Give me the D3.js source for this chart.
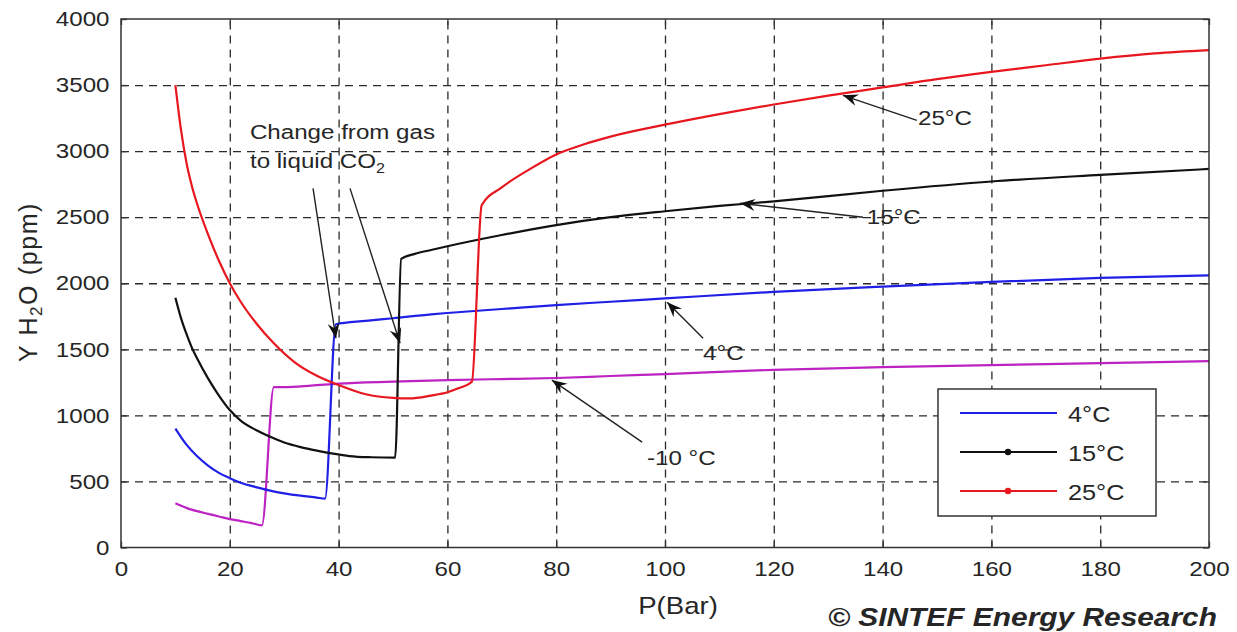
<!DOCTYPE html>
<html><head><meta charset="utf-8">
<script src="https://cdn.jsdelivr.net/npm/d3@7"></script>
<style>
body{margin:0;background:#fff}
text{font-family:"Liberation Sans",Arial,Helvetica,sans-serif;fill:#262626}
</style>
</head><body>
<svg id="c" width="1237" height="632"></svg>
<script>
// ---- data ----
const xTicks = [0,20,40,60,80,100,120,140,160,180,200];
const yTicks = [0,500,1000,1500,2000,2500,3000,3500,4000];

// 4°C
const p4  = [10,12,14,16,18,20,22,25,28,30,33,36,37.5,39.5,45,50,57,60,70,80,90,100,120,140,160,180,200];
const y4  = [900,780,690,620,565,525,490,455,425,410,392,378,370,1690,1715,1735,1765,1775,1805,1835,1860,1885,1935,1975,2010,2040,2060];
// 15°C
const p15 = [10,11,12,13,14,16,18,20,22,25,27,30,33,36,39,42,46,50.4,51.5,54,57,60,70,80,90,100,110,120,140,160,180,200];
const y15 = [1890,1740,1620,1515,1430,1280,1150,1040,960,885,845,795,760,733,710,692,683,680,2185,2222,2252,2280,2365,2440,2500,2545,2585,2620,2700,2770,2820,2865];
// 25°C
const p25 = [10,11,12,13,14,16,18,20,22,25,28,32,36,40,45,50,53,57,60,62,64.5,66.3,70,75,80,85,90,100,110,120,130,140,150,160,170,180,190,200];
const y25 = [3500,3170,2920,2740,2600,2370,2170,2000,1860,1690,1550,1400,1300,1230,1160,1132,1128,1150,1175,1205,1255,2590,2725,2860,2975,3050,3110,3200,3280,3353,3420,3482,3545,3600,3650,3700,3740,3765];
// -10°C
const pm10 = [10,12,14,16,18,20,22,24,25.9,28.1,30,35,40,50,60,70,80,90,100,120,140,160,180,200];
const ym10 = [335,300,275,255,235,215,200,185,168,1214,1214,1225,1240,1255,1267,1275,1283,1298,1312,1345,1365,1380,1395,1410];

const seriesNames  = ["4°C","15°C","25°C","-10°C"];
const seriesColors = ["#1f1fe6","#111111","#e8161f","#bd22c2"];
const legendNames  = ["4°C","15°C","25°C"];
const legendMarker = [false,true,true];

// annotations: [label, textX, textY, tailX, tailY, tipX, tipY] in data units
const notes = [
  ["25°C",  146.5,3195, 146.3,3233, 132.7,3422],
  ["15°C",  137.1,2446, 136.4,2499, 113.8,2605],
  ["4°C",   107.0,1418, 107.0,1584, 100.4,1856],
  ["-10 °C", 96.7, 624,  95.8, 798,  79.2,1267]
];
const changeArrows = [[35.3,2718,39.5,1584],[42.1,2718,51.3,1546]];
const changeText = {x:23.7, y1:3089, y2:2869};

// ---- drawing ----
const svg = d3.select("#c");
const X0=121, X1=1209, Y0=547.5, Y1=19;
const x = d3.scaleLinear().domain([0,200]).range([X0,X1]);
const y = d3.scaleLinear().domain([0,4000]).range([Y0,Y1]);
const SX = 1.15;

svg.append("rect").attr("width",1237).attr("height",632).attr("fill","#fff");

// grid
const gx = svg.append("g").attr("transform",`translate(0,${Y0})`)
  .call(d3.axisBottom(x).tickValues(xTicks.slice(1,-1)).tickSize(-(Y0-Y1)).tickFormat(""));
const gy = svg.append("g").attr("transform",`translate(${X0},0)`)
  .call(d3.axisLeft(y).tickValues(yTicks.slice(1,-1)).tickSize(-(X1-X0)).tickFormat(""));
[gx,gy].forEach(g=>{
  g.select(".domain").remove();
  g.selectAll("line").attr("stroke","#2a2a2a").attr("stroke-width",1.3).attr("stroke-dasharray","8,6");
});

// series
const line = d3.line().x(d=>x(d[0])).y(d=>y(d[1])).curve(d3.curveMonotoneX);
const allP = [p4,p15,p25,pm10], allY=[y4,y15,y25,ym10];
const order = [3,0,1,2];
order.forEach(i=>{
  const pts = allP[i].map((p,k)=>[p,allY[i][k]]);
  svg.append("path").datum(pts).attr("d",line).attr("fill","none")
    .attr("stroke",seriesColors[i]).attr("stroke-width",2.2).attr("stroke-linejoin","round");
});

// frame + axes
svg.append("rect").attr("x",X0).attr("y",Y1).attr("width",X1-X0).attr("height",Y0-Y1)
  .attr("fill","none").attr("stroke","#333").attr("stroke-width",1.5);

const ax = svg.append("g").attr("transform",`translate(0,${Y0})`)
  .call(d3.axisBottom(x).tickValues(xTicks).tickSize(-6).tickPadding(14).tickFormat(d3.format("d")));
const ay = svg.append("g").attr("transform",`translate(${X0},0)`)
  .call(d3.axisLeft(y).tickValues(yTicks).tickSize(-6).tickPadding(10).tickFormat(d3.format("d")));
const axT = svg.append("g").attr("transform",`translate(0,${Y1})`)
  .call(d3.axisTop(x).tickValues(xTicks).tickSize(-6).tickFormat(""));
const ayR = svg.append("g").attr("transform",`translate(${X1},0)`)
  .call(d3.axisRight(y).tickValues(yTicks).tickSize(-6).tickFormat(""));
[ax,ay,axT,ayR].forEach(g=>{
  g.select(".domain").remove();
  g.selectAll("line").attr("stroke","#333").attr("stroke-width",1.3);
  g.selectAll("text").attr("font-size",21).attr("fill","#262626")
   .attr("font-family","'Liberation Sans',Arial,sans-serif")
   .attr("transform",`scale(${SX},1)`);
});

// helper for stretched text
function stext(px,py,str,size,anchor,opts){
  const g = svg.append("g").attr("transform",`translate(${px},${py}) scale(${SX},1)`);
  const t = g.append("text").attr("text-anchor",anchor||"start").attr("font-size",size);
  if(opts&&opts.weight) t.attr("font-weight",opts.weight);
  if(opts&&opts.style) t.attr("font-style",opts.style);
  return t;
}

// axis labels
stext(678,614,"",24,"middle").text("P(Bar)");
const yl = svg.append("g").attr("transform",`translate(37,282) rotate(-90)`)
  .append("text").attr("text-anchor","middle").attr("font-size",25).attr("letter-spacing",1.6);
yl.append("tspan").text("Y H");
yl.append("tspan").attr("font-size",17).attr("dy",5).text("2");
yl.append("tspan").attr("dy",-5).text("O (ppm)");

// copyright
stext(1217,626,"",26,"end",{weight:"bold",style:"italic"}).attr("fill","#1a1a1a").text("© SINTEF Energy Research");

// arrow marker
const defs = svg.append("defs");
defs.append("marker").attr("id","ah").attr("markerUnits","userSpaceOnUse")
  .attr("viewBox","-16 -7 18 14").attr("refX",0).attr("refY",0)
  .attr("markerWidth",18).attr("markerHeight",14).attr("orient","auto")
  .append("path").attr("d","M0,0 L-15,-6 L-10,0 L-15,6 Z").attr("fill","#111");

function arrow(x1,y1,x2,y2){
  svg.append("line").attr("x1",x(x1)).attr("y1",y(y1)).attr("x2",x(x2)).attr("y2",y(y2))
    .attr("stroke","#222").attr("stroke-width",1.4).attr("marker-end","url(#ah)");
}
notes.forEach(n=>{
  arrow(n[3],n[4],n[5],n[6]);
  stext(x(n[1]),y(n[2]),"",21,"start").text(n[0]);
});
changeArrows.forEach(a=>arrow(a[0],a[1],a[2],a[3]));
stext(x(changeText.x),y(changeText.y1),"",21,"start").text("Change from gas");
const ct = stext(x(changeText.x),y(changeText.y2),"",21,"start");
ct.append("tspan").text("to liquid CO");
ct.append("tspan").attr("font-size",14).attr("dy",5).text("2");

// legend
const LX=938, LY=389, LW=218, LH=127;
svg.append("rect").attr("x",LX).attr("y",LY).attr("width",LW).attr("height",LH)
  .attr("fill","#fff").attr("stroke","#333").attr("stroke-width",1.5);
legendNames.forEach((nm,i)=>{
  const ly = LY+24+i*39;
  svg.append("line").attr("x1",LX+22).attr("x2",LX+119).attr("y1",ly).attr("y2",ly)
    .attr("stroke",seriesColors[i]).attr("stroke-width",2.2);
  if(legendMarker[i]) svg.append("circle").attr("cx",LX+70).attr("cy",ly).attr("r",3.2).attr("fill",seriesColors[i]);
  stext(LX+130,ly+9,"",22,"start").text(nm);
});
</script>
</body></html>
